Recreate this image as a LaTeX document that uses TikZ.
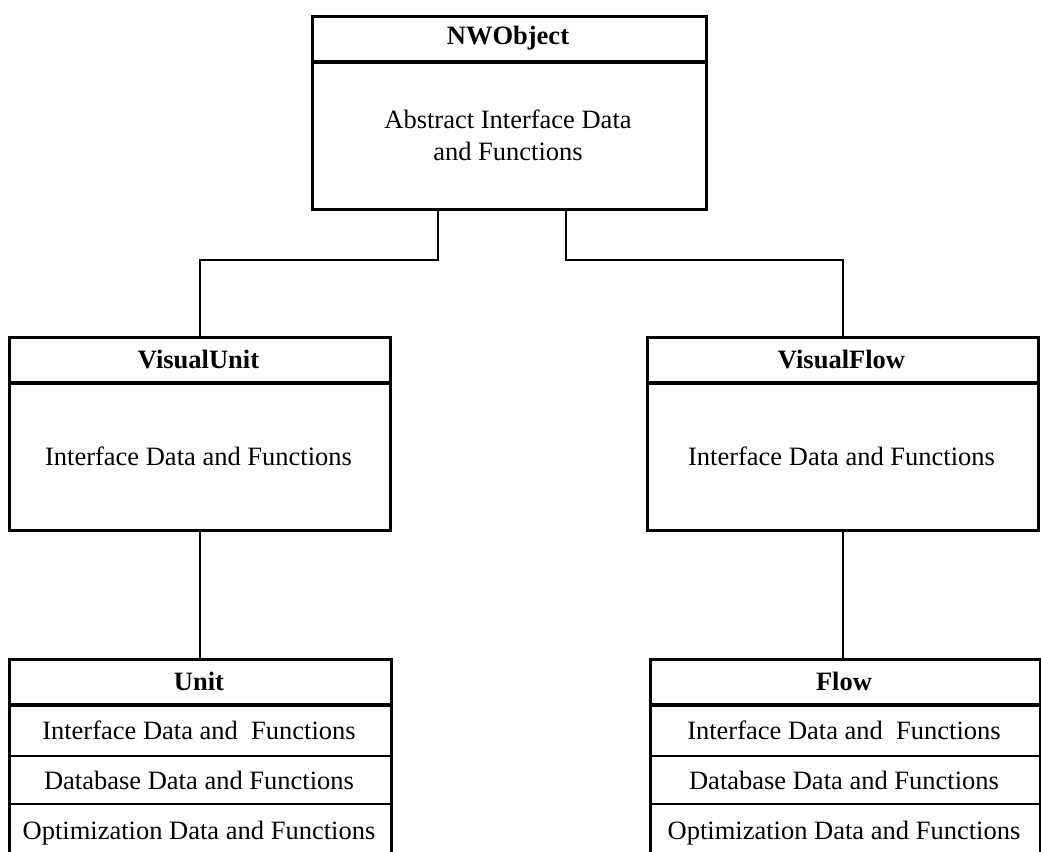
\documentclass[tikz,border=0pt]{standalone}
\usepackage{fontspec}
\setmainfont{Liberation Serif}
\begin{document}
\begin{tikzpicture}[x=1pt,y=-1pt,
  box/.style={draw, line width=2.6pt, inner sep=0pt, anchor=north west},
  title/.style={font=\fontsize{26.5}{30}\selectfont\bfseries, inner sep=0pt},
  body/.style={font=\fontsize{26.5}{32}\selectfont, align=center, inner sep=0pt},
  bar/.style={line width=4pt},
  rule/.style={line width=2.2pt},
  link/.style={line width=2.6pt}]
\useasboundingbox (0,0) rectangle (1041,851);
\clip (0,0) rectangle (1041,851);

% ---------- base class ----------
\node[box, minimum width=394pt, minimum height=193pt] (nw) at (311,15) {};
\draw[bar] (nw.west |- 0,62) -- (nw.east |- 0,62);
\node[title] (nwT) at (508,38.5) {NWObject};
\node[body] (nwB) at (508,135) {Abstract Interface Data\\and Functions};

% ---------- visual classes ----------
\node[box, minimum width=381pt, minimum height=193pt] (vu) at (8,336) {};
\draw[bar] (vu.west |- 0,383) -- (vu.east |- 0,383);
\node[title] (vuT) at (198.5,359.5) {VisualUnit};
\node[body] (vuB) at (198.5,456) {Interface Data and Functions};

\node[box, minimum width=391pt, minimum height=193pt] (vf) at (646,336) {};
\draw[bar] (vf.west |- 0,383) -- (vf.east |- 0,383);
\node[title] (vfT) at (841.5,359.5) {VisualFlow};
\node[body] (vfB) at (841.5,456) {Interface Data and Functions};

% ---------- concrete classes ----------
\node[box, minimum width=382pt, minimum height=204pt] (un) at (8,658) {};
\draw[bar] (un.west |- 0,705) -- (un.east |- 0,705);
\draw[rule] (un.west |- 0,756) -- (un.east |- 0,756);
\draw[rule] (un.west |- 0,804) -- (un.east |- 0,804);
\node[title] (unT) at (199,681.5) {Unit};
\node[body] (un1) at (199,730.5) {Interface Data and\ \ Functions};
\node[body] (un2) at (199,780) {Database Data and Functions};
\node[body] (un3) at (199,833) {Optimization Data and Functions};

\node[box, minimum width=390pt, minimum height=204pt] (fl) at (649,658) {};
\draw[bar] (fl.west |- 0,705) -- (fl.east |- 0,705);
\draw[rule] (fl.west |- 0,756) -- (fl.east |- 0,756);
\draw[rule] (fl.west |- 0,804) -- (fl.east |- 0,804);
\node[title] (flT) at (844,681.5) {Flow};
\node[body] (fl1) at (844,730.5) {Interface Data and\ \ Functions};
\node[body] (fl2) at (844,780) {Database Data and Functions};
\node[body] (fl3) at (844,833) {Optimization Data and Functions};

% ---------- inheritance links ----------
\coordinate (jl) at (438,260);
\coordinate (jr) at (566,260);
\draw[link] (nw.south -| jl) -- (jl) -| (vu.north);
\draw[link] (nw.south -| jr) -- (jr) -| (vf.north);
\draw[link] (vu.south) -- (vu.south |- un.north);
\draw[link] (vf.south) -- (vf.south |- fl.north);
\end{tikzpicture}
\end{document}
